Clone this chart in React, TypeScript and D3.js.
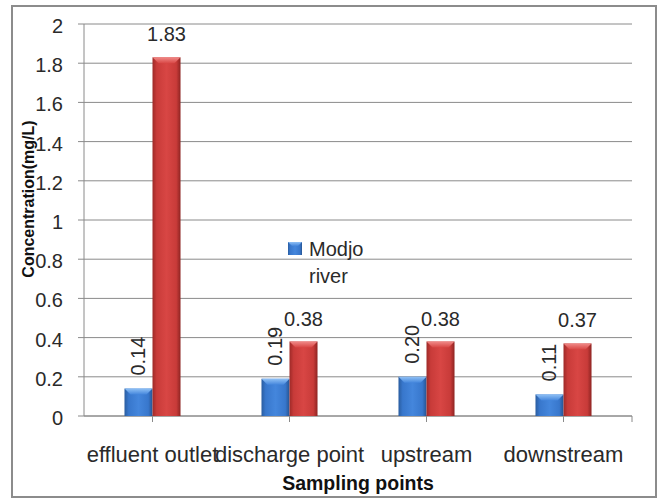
import React from "react";
import * as d3 from "d3";

const categories = ["effluent outlet", "discharge point", "upstream", "downstream"];
const seriesNames = ["Modjo river", "Series 2"];
const modjoValues = [0.14, 0.19, 0.2, 0.11];
const secondValues = [1.83, 0.38, 0.38, 0.37];
const modjoLabels = ["0.14", "0.19", "0.20", "0.11"];
const secondLabels = ["1.83", "0.38", "0.38", "0.37"];
const yTicks = [0, 0.2, 0.4, 0.6, 0.8, 1, 1.2, 1.4, 1.6, 1.8, 2];

const W = 661;
const H = 499;
const left = 84;
const right = 632;
const top = 24;
const bottom = 416;
const FONT = "'Liberation Sans', Arial, sans-serif";

export default function App() {
  const x = d3
    .scaleBand<string>()
    .domain(categories)
    .range([left, right])
    .paddingInner(0.591)
    .paddingOuter(0.2955);
  const x1 = d3.scaleBand<string>().domain(seriesNames).range([0, x.bandwidth()]);
  const y = d3.scaleLinear().domain([0, 2]).range([bottom, top]);

  const center = (c: string) => (x(c) as number) + x.bandwidth() / 2;

  return (
    <svg
      width={W}
      height={H}
      style={{ position: "absolute", left: 0, top: 0, background: "#fff" }}
      fontFamily={FONT}
    >
      <defs>
        <linearGradient id="gBlue" x1="0" x2="1" y1="0" y2="0">
          <stop offset="0" stopColor="#2a5da0" />
          <stop offset="0.15" stopColor="#3877cc" />
          <stop offset="0.5" stopColor="#4486dc" />
          <stop offset="0.85" stopColor="#3877cc" />
          <stop offset="1" stopColor="#275491" />
        </linearGradient>
        <linearGradient id="gRed" x1="0" x2="1" y1="0" y2="0">
          <stop offset="0" stopColor="#9e2a28" />
          <stop offset="0.15" stopColor="#c83b39" />
          <stop offset="0.5" stopColor="#d84644" />
          <stop offset="0.85" stopColor="#c83b39" />
          <stop offset="1" stopColor="#8e2422" />
        </linearGradient>
        <linearGradient id="gBlueTop" x1="0" x2="0" y1="0" y2="1">
          <stop offset="0" stopColor="#8fc0f5" />
          <stop offset="1" stopColor="#4486dc" />
        </linearGradient>
        <linearGradient id="gRedTop" x1="0" x2="0" y1="0" y2="1">
          <stop offset="0" stopColor="#f08a88" />
          <stop offset="1" stopColor="#d84644" />
        </linearGradient>
      </defs>

      {/* outer border */}
      <rect x={12} y={6} width={644} height={491} fill="#fff" stroke="#8c8c8c" strokeWidth={2} />

      {/* gridlines and y ticks */}
      {yTicks.map((t) => (
        <g key={t}>
          <line x1={78} x2={right} y1={y(t)} y2={y(t)} stroke="#8a8a8a" strokeWidth={1} />
          <text
            x={63}
            y={y(t) + 2}
            textAnchor="end"
            dominantBaseline="central"
            fontSize={20}
            fill="#2a2a2a"
          >
            {String(t)}
          </text>
        </g>
      ))}

      {/* axes */}
      <line x1={left} x2={left} y1={top} y2={bottom} stroke="#8a8a8a" strokeWidth={1} />
      <line x1={left} x2={right} y1={bottom} y2={bottom} stroke="#8a8a8a" strokeWidth={1} />
      {[...categories.map(center), right].map((cx, i) => (
        <line key={i} x1={cx} x2={cx} y1={bottom} y2={bottom + 6} stroke="#8a8a8a" strokeWidth={1} />
      ))}

      {/* bars */}
      {categories.map((c, i) => {
        const bx = (x(c) as number) + (x1(seriesNames[0]) as number);
        const rx = (x(c) as number) + (x1(seriesNames[1]) as number);
        const bw = x1.bandwidth();
        const by = y(modjoValues[i]);
        const ry = y(secondValues[i]);
        const bev = 6;
        return (
          <g key={c}>
            <rect x={bx} y={by} width={bw} height={bottom - by} fill="url(#gBlue)" />
            <path
              d={`M${bx},${by} L${bx + bw},${by} L${bx + bw - bev},${by + bev} L${bx + bev},${by + bev} Z`}
              fill="url(#gBlueTop)"
            />
            <rect x={rx} y={ry} width={bw} height={bottom - ry} fill="url(#gRed)" />
            <path
              d={`M${rx},${ry} L${rx + bw},${ry} L${rx + bw - bev},${ry + bev} L${rx + bev},${ry + bev} Z`}
              fill="url(#gRedTop)"
            />
            <text
              transform={`translate(${bx + bw / 2 + 7},${by - 13}) rotate(-90)`}
              fontSize={20}
              fill="#2a2a2a"
            >
              {modjoLabels[i]}
            </text>
            <text x={rx + bw / 2} y={ry - 16} textAnchor="middle" fontSize={20} fill="#2a2a2a">
              {secondLabels[i]}
            </text>
            <text x={center(c)} y={462} textAnchor="middle" fontSize={22} fill="#2a2a2a">
              {c}
            </text>
          </g>
        );
      })}

      {/* legend */}
      <rect x={288} y={242} width={14} height={13} fill="url(#gBlue)" />
      <path d="M288,242 L302,242 L298,246 L292,246 Z" fill="url(#gBlueTop)" />
      <text x={309} y={256} fontSize={20} fill="#2a2a2a">Modjo</text>
      <text x={309} y={283} fontSize={20} fill="#2a2a2a">river</text>

      {/* axis titles */}
      <text x={358} y={490} textAnchor="middle" fontSize={19.5} fontWeight="bold" fill="#111">
        Sampling points
      </text>
      <text
        transform={`translate(34,199) rotate(-90)`}
        textAnchor="middle"
        fontSize={16}
        fontWeight="bold"
        fill="#111"
      >
        Concentration(mg/L)
      </text>
    </svg>
  );
}
